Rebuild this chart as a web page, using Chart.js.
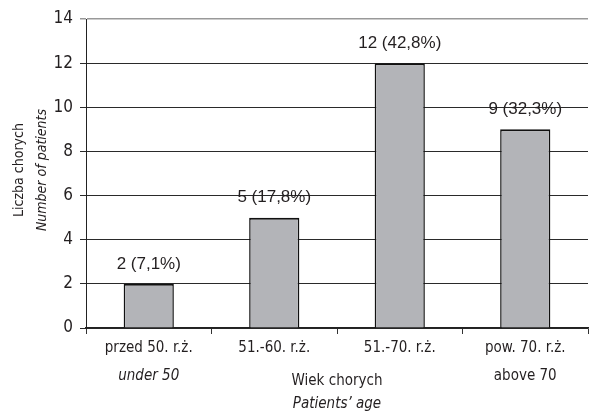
<!DOCTYPE html>
<html>
<head>
<meta charset="utf-8">
<script src="https://cdn.jsdelivr.net/npm/chart.js@4/dist/chart.umd.min.js"></script>
<style>
  html, body { margin: 0; padding: 0; background: #fff; }
  #wrap { width: 593px; height: 416px; }
</style>
</head>
<body>
<div id="wrap"><canvas id="c" width="593" height="416"></canvas></div>
<script>
// Age groups (Polish) with English subtitles
const categories = ['przed 50. r.ż.', '51.-60. r.ż.', '51.-70. r.ż.', 'pow. 70. r.ż.'];
const subLabels = ['under 50', '', '', 'above 70'];
const subItalic = [true, false, false, false];
// Number of patients per group and share in percent
const patients = [2, 5, 12, 9];
const percents = ['7,1', '17,8', '42,8', '32,3'];
const yTicks = [0, 2, 4, 6, 8, 10, 12, 14];

const NARROW = '"Liberation Sans Narrow", "DejaVu Sans Condensed", sans-serif';
const INK = '#231f20';

const annotate = {
  id: 'annotate',
  afterDatasetsDraw(chart) {
    const ctx = chart.ctx;
    const meta = chart.getDatasetMeta(0);
    ctx.save();
    ctx.fillStyle = INK;
    ctx.textAlign = 'center';
    ctx.textBaseline = 'middle';
    ctx.font = '17px "Liberation Sans", Arial, sans-serif';
    meta.data.forEach((bar, i) => {
      ctx.fillText(patients[i] + ' (' + percents[i] + '%)', bar.x, bar.y - 20);
    });
    ctx.restore();
  },
  afterDraw(chart) {
    const ctx = chart.ctx;
    const x = chart.scales.x;
    ctx.save();
    ctx.fillStyle = INK;
    ctx.textAlign = 'center';
    ctx.textBaseline = 'middle';
    // second line of category labels
    subLabels.forEach((t, i) => {
      if (!t) return;
      ctx.font = (subItalic[i] ? 'italic ' : '') + '15px ' + NARROW;
      ctx.fillText(t, x.getPixelForValue(i), 376);
    });
    // x axis title
    const midX = (x.getPixelForValue(1) + x.getPixelForValue(2)) / 2;
    ctx.font = '15px ' + NARROW;
    ctx.fillText('Wiek chorych', midX, 381);
    ctx.font = 'italic 15px ' + NARROW;
    ctx.fillText('Patients\u2019 age', midX, 404);
    // y axis title
    ctx.translate(19, 170);
    ctx.rotate(-Math.PI / 2);
    ctx.font = '14px ' + NARROW;
    ctx.fillText('Liczba chorych', 0, 0);
    ctx.font = 'italic 14px ' + NARROW;
    ctx.fillText('Number of patients', 0, 23);
    ctx.restore();
  }
};

new Chart(document.getElementById('c'), {
  type: 'bar',
  data: {
    labels: categories,
    datasets: [{
      data: patients,
      backgroundColor: '#b3b4b8',
      borderColor: '#111',
      borderWidth: { top: 2, left: 1.5, right: 1.5, bottom: 0 },
      borderSkipped: false,
      barPercentage: 0.4,
      categoryPercentage: 1.0
    }]
  },
  options: {
    responsive: false,
    animation: false,
    devicePixelRatio: 1,
    layout: { padding: { top: 19, right: 5, left: 0, bottom: 0 } },
    plugins: { legend: { display: false }, tooltip: { enabled: false } },
    scales: {
      x: {
        offset: true,
        grid: {
          offset: true,
          drawOnChartArea: false,
          drawTicks: true,
          tickLength: 6,
          color: '#333'
        },
        border: { color: '#222', width: 1.5 },
        ticks: {
          color: INK,
          padding: 5,
          font: { family: NARROW, size: 15 }
        },
        afterFit(s) { s.height = 88; }
      },
      y: {
        min: 0,
        max: 14,
        afterBuildTicks(s) { s.ticks = yTicks.map(v => ({ value: v })); },
        grid: {
          color: ctx => (ctx.tick && ctx.tick.value === 14 ? '#999' : '#2a2a2a'),
          lineWidth: ctx => (ctx.tick && ctx.tick.value === 14 ? 1.5 : 1),
          tickLength: 6
        },
        border: { color: '#222', width: 1 },
        ticks: {
          color: INK,
          padding: 7,
          font: { family: NARROW, size: 17 }
        },
        afterFit(s) { s.width = 86; }
      }
    }
  },
  plugins: [annotate]
});
</script>
</body>
</html>
